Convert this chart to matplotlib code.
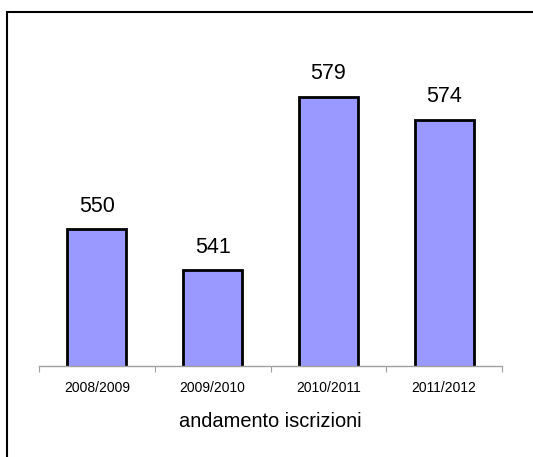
import numpy as np
import matplotlib
matplotlib.use("Agg")
import matplotlib.pyplot as plt
from matplotlib.patches import Rectangle

plt.rcParams['font.family'] = ['Liberation Sans', 'DejaVu Sans']

anni = ['2008/2009', '2009/2010', '2010/2011', '2011/2012']
iscritti = [550, 541, 579, 574]

W, H = 533, 457
fig = plt.figure(figsize=(W / 100, H / 100), dpi=100)

# axes: x from 39 to 502 px, baseline at y=366 px
ax = fig.add_axes([39 / W, (H - 366) / H, (502 - 39) / W, (366 - 24) / H])
x = np.arange(len(anni))
bars = ax.bar(x, iscritti, width=0.51, color='#9999ff', edgecolor='black', linewidth=2)
ax.set_ylim(520, 595)
ax.set_xlim(-0.5, len(anni) - 0.5)

for b, v in zip(bars, iscritti):
    ax.annotate(str(v), (b.get_x() + b.get_width() / 2, v), xytext=(0, 9),
                textcoords='offset points', ha='center', va='bottom', fontsize=15.5)

for s in ['top', 'right', 'left']:
    ax.spines[s].set_visible(False)
ax.spines['bottom'].set_color('#a0a0a0')
ax.spines['bottom'].set_linewidth(1)
ax.set_yticks([])
ax.set_xticks(np.arange(-0.5, len(anni), 1))
ax.set_xticklabels([])
ax.set_xticks(x, minor=True)
ax.set_xticklabels(anni, minor=True, fontsize=10)
ax.tick_params(axis='x', which='major', length=4, color='#a0a0a0', direction='out')
ax.tick_params(axis='x', which='minor', length=0, pad=11)
ax.set_xlabel('andamento iscrizioni', fontsize=14.4, labelpad=12)

# cornice del grafico
fig.patches.append(Rectangle((7 / W, -0.1), 1.2, 1 - 12 / H + 0.1, transform=fig.transFigure,
                             fill=False, edgecolor='black', linewidth=1.5))

fig.savefig('out.png', dpi=100)
